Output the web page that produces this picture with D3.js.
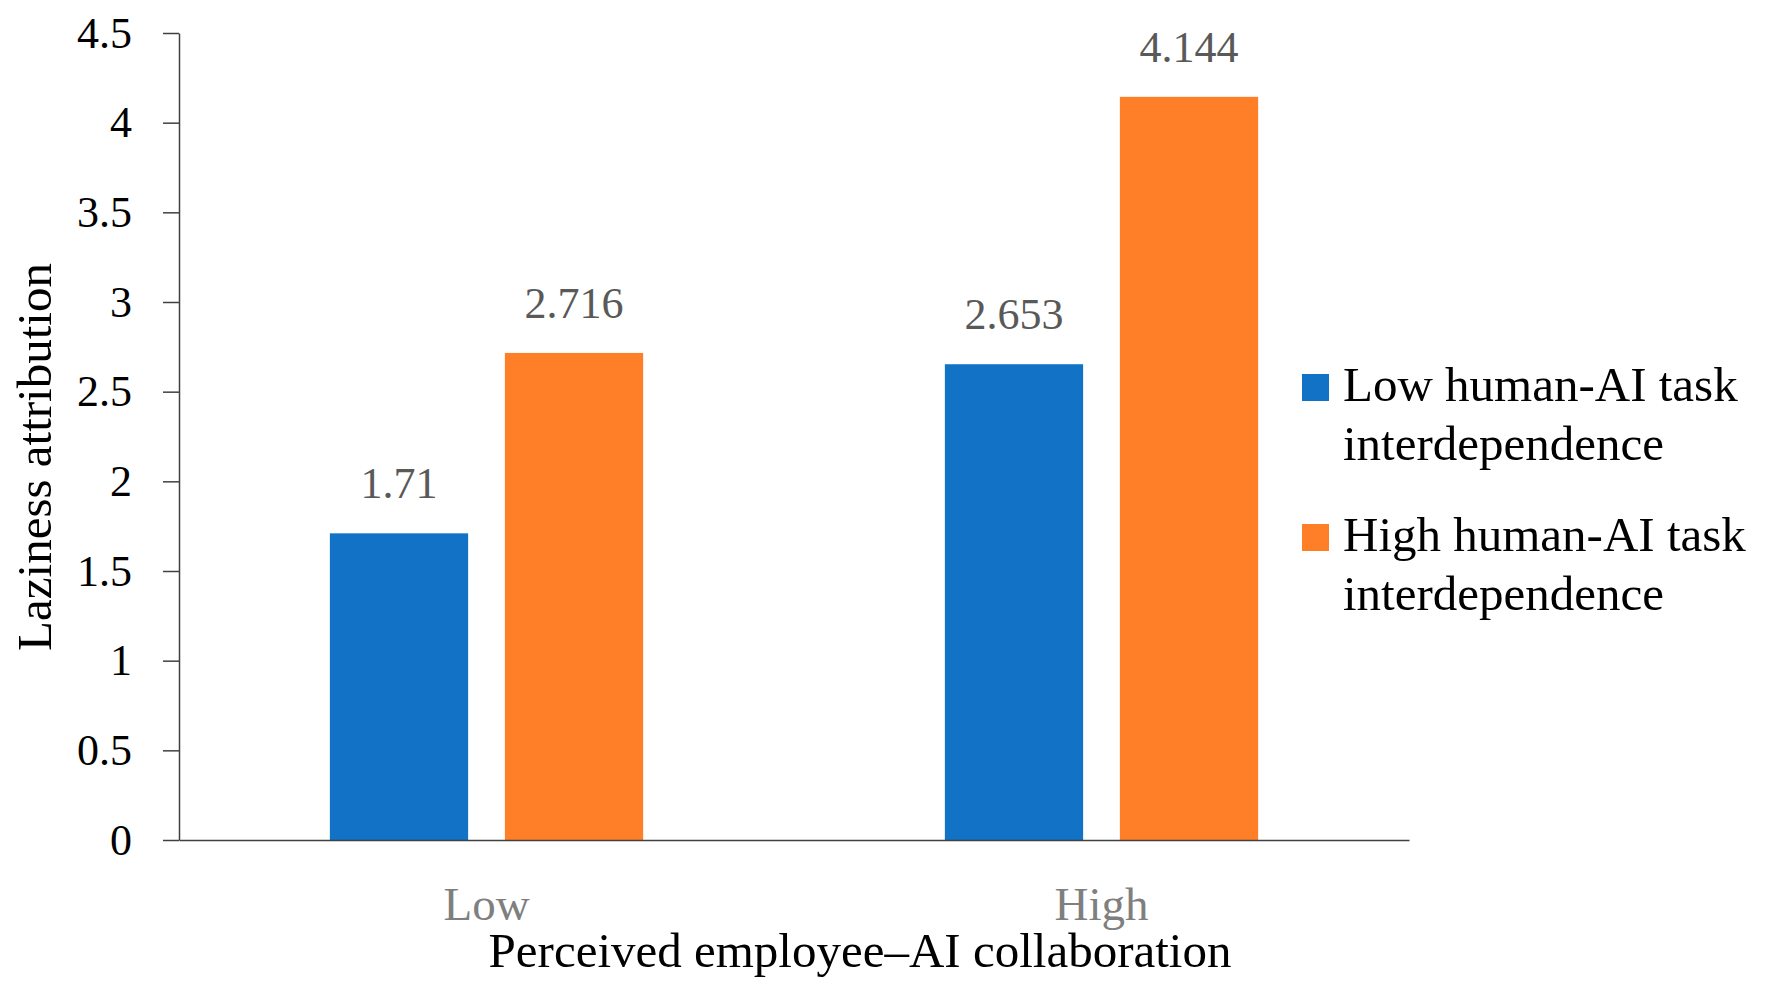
<!DOCTYPE html>
<html>
<head>
<meta charset="utf-8">
<script src="https://cdn.jsdelivr.net/npm/d3@7"></script>
<style>
  body { margin: 0; background: #fff; }
  text { font-family: "Liberation Serif", "Times New Roman", serif; }
</style>
</head>
<body>
<svg id="chart"></svg>
<script>
// data
const categories = ["Low", "High"];
const seriesNames = ["Low human-AI task interdependence", "High human-AI task interdependence"];
const lowSeries = [1.71, 2.653];
const highSeries = [2.716, 4.144];
const valueLabels = [["1.71", "2.653"], ["2.716", "4.144"]];
const yTicks = [0, 0.5, 1, 1.5, 2, 2.5, 3, 3.5, 4, 4.5];
const legendLines = [["Low human-AI task", "interdependence"], ["High human-AI task", "interdependence"]];
const colors = ["#1172c6", "#fe7f28"];

const W = 1767, H = 994;
const plot = {left: 179, right: 1409, top: 33, bottom: 840};

const svg = d3.select("#chart").attr("width", W).attr("height", H);

const x0 = d3.scaleBand().domain(categories).range([plot.left, plot.right]).padding(0);
const x1 = d3.scaleBand().domain(d3.range(seriesNames.length))
    .range([0, x0.bandwidth()]).paddingInner(0.21).paddingOuter(0.862);
const y = d3.scaleLinear().domain([0, 4.5]).range([plot.bottom, plot.top]);

// table built from the arrays
const rows = categories.map((c, i) => ({
    cat: c,
    vals: [lowSeries[i], highSeries[i]],
    labels: [valueLabels[0][i], valueLabels[1][i]]
}));

// bars
const groups = svg.append("g").selectAll("g")
    .data(rows)
    .enter()
    .append("g")
    .attr("transform", d => `translate(${x0(d.cat)},0)`);

groups.selectAll("rect")
    .data(d => d.vals.map((v, s) => ({v, s})))
    .enter()
    .append("rect")
    .attr("x", d => x1(d.s))
    .attr("width", x1.bandwidth())
    .attr("y", d => y(d.v))
    .attr("height", d => y(0) - y(d.v))
    .attr("fill", d => colors[d.s]);

groups.selectAll(".lbl")
    .data(d => d.vals.map((v, s) => ({v, s, t: d.labels[s]})))
    .enter()
    .append("text")
    .attr("class", "lbl")
    .attr("x", d => x1(d.s) + x1.bandwidth() / 2)
    .attr("y", d => y(d.v) - 35)
    .attr("text-anchor", "middle")
    .style("font-size", "44px")
    .style("fill", "#595959")
    .text(d => d.t);

// y axis
const yAxis = svg.append("g")
    .attr("transform", `translate(${plot.left},0)`)
    .call(d3.axisLeft(y).tickValues(yTicks).tickSize(16).tickSizeOuter(0).tickPadding(31)
        .tickFormat(d => String(d)));
yAxis.selectAll("path, line").attr("stroke", "#404040").attr("stroke-width", 1.5);
yAxis.selectAll("text")
    .attr("font-family", null)
    .style("font-size", "44px")
    .style("fill", "#000");

// x axis
const xAxis = svg.append("g")
    .attr("transform", `translate(0,${plot.bottom})`)
    .call(d3.axisBottom(x0).tickSize(0).tickSizeOuter(0));
xAxis.select(".domain").attr("stroke", "#404040").attr("stroke-width", 1.5);
xAxis.selectAll("text")
    .attr("font-family", null)
    .attr("y", 80)
    .attr("dy", 0)
    .style("font-size", "47px")
    .style("fill", "#7f7f7f");

// axis titles
svg.append("text")
    .attr("transform", `translate(51,457) rotate(-90)`)
    .attr("text-anchor", "middle")
    .style("font-size", "49px")
    .style("fill", "#000")
    .text("Laziness attribution");

svg.append("text")
    .attr("x", 860)
    .attr("y", 967)
    .attr("text-anchor", "middle")
    .style("font-size", "49px")
    .style("fill", "#000")
    .text("Perceived employee–AI collaboration");

// legend
const legend = svg.append("g").selectAll("g")
    .data(seriesNames)
    .enter()
    .append("g")
    .attr("transform", (d, i) => `translate(1302,${401 + i * 150})`);

legend.append("rect")
    .attr("x", 0)
    .attr("y", -27)
    .attr("width", 27)
    .attr("height", 27)
    .attr("fill", (d, i) => colors[i]);

legend.append("text")
    .attr("x", 41)
    .attr("y", 0)
    .style("font-size", "49px")
    .style("fill", "#000")
    .selectAll("tspan")
    .data((d, i) => legendLines[i])
    .enter()
    .append("tspan")
    .attr("x", 41)
    .attr("y", (d, j) => j * 59)
    .text(d => d);
</script>
</body>
</html>
